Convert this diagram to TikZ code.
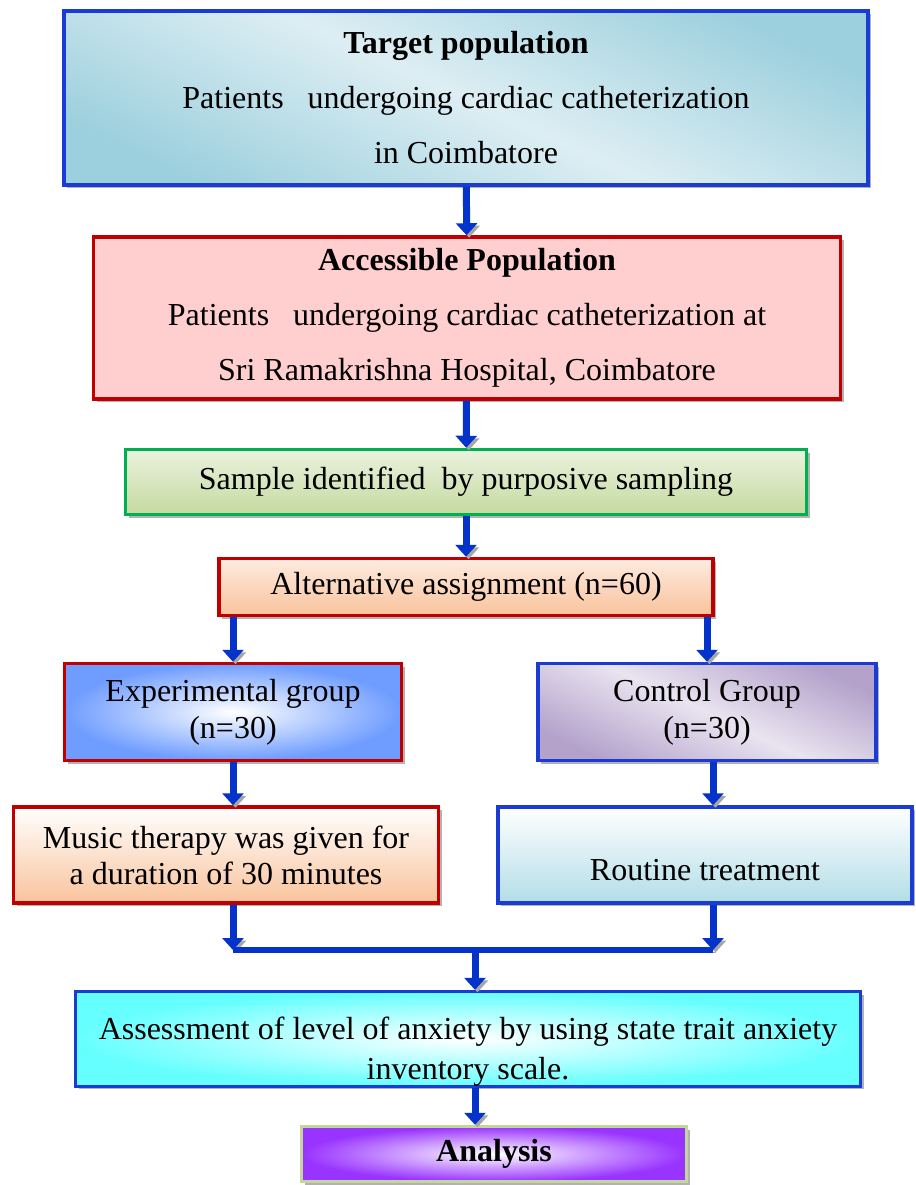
\documentclass[tikz,border=0pt]{standalone}
\usepackage{fontspec}
\setmainfont{Liberation Serif}
\usetikzlibrary{shapes,arrows.meta,calc,positioning,shadows}
\definecolor{arrowblue}{HTML}{0433CC}
\definecolor{redline}{HTML}{C00000}
\definecolor{blueline}{HTML}{1A3CD4}
\definecolor{greenline}{HTML}{00B050}
\definecolor{paleline}{HTML}{C3D69B}
\definecolor{tgtdark}{HTML}{9DD0DE}
\definecolor{tgtlight}{HTML}{DDEEF3}
\definecolor{accfill}{HTML}{FFCFCF}
\definecolor{smpdark}{HTML}{C5DA9E}
\definecolor{smplight}{HTML}{EAF2DF}
\definecolor{peach}{HTML}{F9C39C}
\definecolor{peachlight}{HTML}{FDEBE0}
\definecolor{expblue}{HTML}{6E9CFF}
\definecolor{ctrlpurple}{HTML}{B4A2CB}
\definecolor{ctrllight}{HTML}{E9E4F0}
\definecolor{routblue}{HTML}{B3DDE8}
\definecolor{assesscyan}{HTML}{66FFFF}
\definecolor{anapurple}{HTML}{9933FF}
\tikzset{box/.style={draw, rectangle, line width=3.5pt, inner sep=0pt, align=center,
  font=\fontsize{32}{37}\selectfont,
  drop shadow={shadow xshift=3pt, shadow yshift=-3pt, fill=black!30, opacity=1}}}
\tikzstyle{flow}=[-{Triangle[width=21pt,length=12pt]}, line width=7pt, draw=arrowblue,
  preaction={draw=black!35, transform canvas={shift={(2.5pt,-2.5pt)}}}]

\begin{document}
\begin{tikzpicture}[x=1pt, y=-1pt]
\useasboundingbox (0,0) rectangle (915,1185);
% boxes
\node[box, draw=blueline, minimum width=804pt, minimum height=174pt, font=\fontsize{32}{55}\selectfont,
  top color=tgtdark, bottom color=tgtdark, middle color=tgtlight, shading angle=-25] (Tgt) at (466,98)
  {\textbf{Target population}\\Patients\ \ \ undergoing cardiac catheterization\\in Coimbatore};
\node[box, draw=redline, fill=accfill, minimum width=747pt, minimum height=162pt, font=\fontsize{32}{55}\selectfont] (Acc) at (467,318)
  {\textbf{Accessible Population}\\Patients\ \ \ undergoing cardiac catheterization at\\Sri Ramakrishna Hospital, Coimbatore};
\node[box, draw=greenline, top color=smplight, bottom color=smpdark, minimum width=681pt, minimum height=65pt] (Smp) at (466,482)
  {Sample identified\ \ by purposive sampling};
\node[box, draw=redline, top color=peachlight, bottom color=peach, minimum width=494pt, minimum height=57pt] (Alt) at (466,587)
  {Alternative assignment (n=60)};
\node[box, draw=redline, inner color=white, outer color=expblue, minimum width=337pt, minimum height=97pt] (Exp) at (233,712)
  {Experimental group\\(n=30)};
\node[box, draw=blueline, top color=ctrlpurple, bottom color=ctrlpurple, middle color=ctrllight, shading angle=-25,
  minimum width=338pt, minimum height=97pt] (Ctrl) at (707,712)
  {Control Group\\(n=30)};
\node[box, draw=redline, top color=white, bottom color=peach, minimum width=425pt, minimum height=96pt, font=\fontsize{32}{36}\selectfont] (Mus) at (226,855)
  {Music therapy was given for\\a duration of 30 minutes};
\node[box, draw=blueline, top color=white, bottom color=routblue, minimum width=414pt, minimum height=96pt] (Rout) at (705,855)
  {\strut\\[-12pt]Routine treatment};
\node[box, draw=blueline, inner color=white, outer color=assesscyan, minimum width=785pt, minimum height=89pt, font=\fontsize{32}{40}\selectfont] (Ass) at (468,1039)
  {\strut\\[-20pt]Assessment of level of anxiety by using state trait anxiety\\inventory scale.};
\node[box, draw=paleline, inner color=white, outer color=anapurple, minimum width=385pt, minimum height=55pt] (Ana) at (494,1154)
  {\textbf{Analysis}};
\coordinate (join) at (475,950);
% arrows
\draw[flow] (Tgt) -- (Acc);
\draw[flow] (Acc) -- (Smp);
\draw[flow] (Smp) -- (Alt);
\draw[flow] (Alt.south -| Exp.north) -- (Exp.north);
\draw[flow] (Alt.south -| Ctrl.north) -- (Ctrl.north);
\draw[flow] (Exp.south) -- (Exp.south |- Mus.north);
\draw[flow] ([xshift=6pt]Ctrl.south) -- ([xshift=6pt]Ctrl.south |- Rout.north);
\draw[flow] (Exp.south |- Mus.south) -- (Exp.south |- join);
\draw[flow] ([xshift=6pt]Ctrl.south |- Rout.south) -- ([xshift=6pt]Ctrl.south |- join);
\draw[line width=6pt, draw=arrowblue, preaction={draw=black!35, transform canvas={shift={(2.5pt,-2.5pt)}}}]
  (Exp.south |- join) -- ([xshift=6pt]Ctrl.south |- join);
\draw[flow] (join) -- (join |- Ass.north);
\draw[flow] (Ass.south -| join) -- (join |- Ana.north);
\end{tikzpicture}
\end{document}
